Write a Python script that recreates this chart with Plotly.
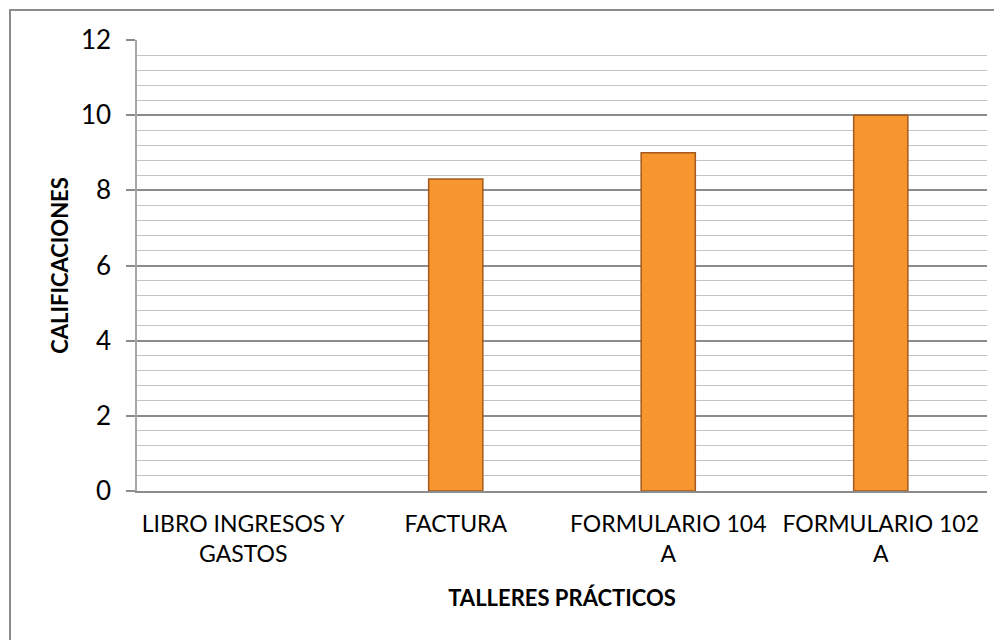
import plotly.graph_objects as go

categories = ["LIBRO INGRESOS Y<br>GASTOS", "FACTURA", "FORMULARIO 104<br>A", "FORMULARIO 102<br>A"]
values = [0, 8.3, 9, 10]
y_ticks = [0, 2, 4, 6, 8, 10, 12]

# page body has an 8px margin, so the figure is sized to fit the window
W, H = 994, 632
L, R, T, B = 129, 15, 32, 149
pw, ph = W - L - R, H - T - B

fig = go.Figure()
fig.add_trace(go.Bar(
    x=categories, y=values, width=0.255,
    marker=dict(color="#F7962F",
                line=dict(color="#A45A1C", width=[0 if v == 0 else 1.5 for v in values])),
    hoverinfo="x+y",
))

font = "Lato, Carlito, Calibri, sans-serif"
fig.update_layout(
    width=W, height=H,
    margin=dict(l=L, r=R, t=T, b=B, pad=0),
    paper_bgcolor="white", plot_bgcolor="white",
    showlegend=False,
    font=dict(family=font, size=22, color="#000000"),
)
fig.update_xaxes(
    showline=True, linecolor="#8C8C8C", linewidth=1.5,
    showgrid=False, ticks="", tickfont=dict(size=23),
    ticklabelstandoff=12,
    title=dict(text="<b>TALLERES PRÁCTICOS</b>", font=dict(size=22), standoff=24),
)
fig.update_yaxes(
    range=[0, 12], tickvals=y_ticks, ticktext=[str(v) for v in y_ticks],
    showline=True, linecolor="#A6A6A6", linewidth=1.5,
    ticks="outside", ticklen=9, tickcolor="#8C8C8C", tickwidth=1.5,
    ticklabelstandoff=10,
    showgrid=True, gridcolor="#8C8C8C", gridwidth=1.5,
    minor=dict(dtick=0.4, tick0=0, showgrid=True, gridcolor="#C4C4C4", gridwidth=1.2, ticks=""),
    zeroline=False,
    tickfont=dict(size=26),
    title=dict(text="<b>CALIFICACIONES</b>", font=dict(size=22), standoff=6),
)
# outer chart-area border (extends beyond the visible crop on right/bottom)
fig.add_shape(type="rect", xref="paper", yref="paper",
              x0=(2 - L) / pw, x1=(W + 30 - L) / pw,
              y0=-(H + 30 - T - ph) / ph, y1=1 + (T - 2) / ph,
              line=dict(color="#8C8C8C", width=2), fillcolor="rgba(0,0,0,0)", layer="below")

fig.write_html("out.html")
